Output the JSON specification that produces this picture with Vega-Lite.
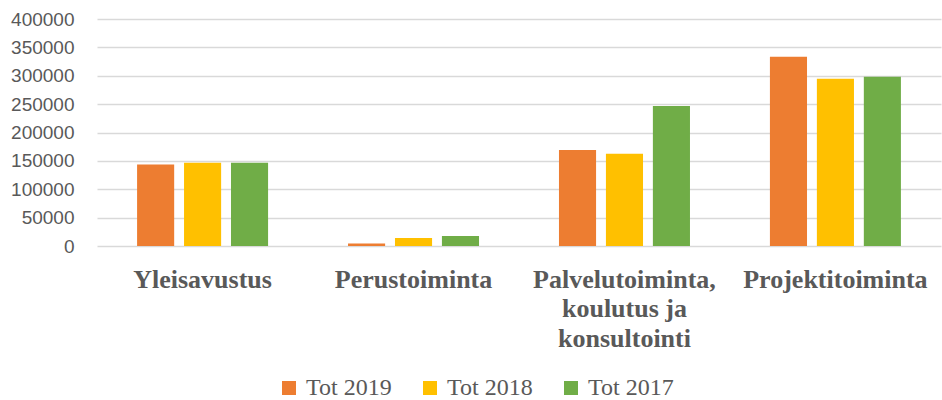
{
  "$schema": "https://vega.github.io/schema/vega-lite/v6.json",
  "autosize": {"type": "none"},
  "width": 844,
  "height": 227,
  "padding": {"left": 97, "top": 19, "right": 1, "bottom": 154},
  "background": "white",
  "data": {
    "values": [
      {"kategoria": "Yleisavustus", "sarja": "Tot 2019", "arvo": 143800},
      {"kategoria": "Yleisavustus", "sarja": "Tot 2018", "arvo": 146600},
      {"kategoria": "Yleisavustus", "sarja": "Tot 2017", "arvo": 146600},
      {"kategoria": "Perustoiminta", "sarja": "Tot 2019", "arvo": 4200},
      {"kategoria": "Perustoiminta", "sarja": "Tot 2018", "arvo": 14100},
      {"kategoria": "Perustoiminta", "sarja": "Tot 2017", "arvo": 17700},
      {"kategoria": "Palvelutoiminta, koulutus ja konsultointi", "sarja": "Tot 2019", "arvo": 169100},
      {"kategoria": "Palvelutoiminta, koulutus ja konsultointi", "sarja": "Tot 2018", "arvo": 162500},
      {"kategoria": "Palvelutoiminta, koulutus ja konsultointi", "sarja": "Tot 2017", "arvo": 246800},
      {"kategoria": "Projektitoiminta", "sarja": "Tot 2019", "arvo": 333400},
      {"kategoria": "Projektitoiminta", "sarja": "Tot 2018", "arvo": 294500},
      {"kategoria": "Projektitoiminta", "sarja": "Tot 2017", "arvo": 298100}
    ]
  },
  "mark": {"type": "bar"},
  "encoding": {
    "x": {
      "field": "kategoria",
      "type": "nominal",
      "sort": ["Yleisavustus", "Perustoiminta", "Palvelutoiminta, koulutus ja konsultointi", "Projektitoiminta"],
      "scale": {"paddingInner": 0.379, "paddingOuter": 0.19},
      "axis": {
        "title": null,
        "labelAngle": 0,
        "domain": false,
        "ticks": false,
        "labelPadding": 20,
        "labelFont": "Liberation Serif",
        "labelFontWeight": "bold",
        "labelFontSize": 26,
        "labelColor": "#595959",
        "labelLimit": 400,
        "labelLineHeight": 29.5,
        "labelExpr": "datum.label == 'Palvelutoiminta, koulutus ja konsultointi' ? ['Palvelutoiminta,', 'koulutus ja', 'konsultointi'] : datum.label"
      }
    },
    "xOffset": {
      "field": "sarja",
      "type": "nominal",
      "sort": ["Tot 2019", "Tot 2018", "Tot 2017"],
      "scale": {"paddingInner": 0.21, "paddingOuter": 0}
    },
    "y": {
      "field": "arvo",
      "type": "quantitative",
      "scale": {"domain": [0, 400000], "nice": false},
      "axis": {
        "title": null,
        "values": [0, 50000, 100000, 150000, 200000, 250000, 300000, 350000, 400000],
        "format": "d",
        "domain": false,
        "ticks": false,
        "labelPadding": 23,
        "labelFont": "Liberation Sans",
        "labelFontSize": 19,
        "labelColor": "#595959",
        "gridColor": "#d9d9d9",
        "gridWidth": 1.5
      }
    },
    "color": {
      "field": "sarja",
      "type": "nominal",
      "sort": ["Tot 2019", "Tot 2018", "Tot 2017"],
      "scale": {"domain": ["Tot 2019", "Tot 2018", "Tot 2017"], "range": ["#ED7D31", "#FFC000", "#70AD47"]},
      "legend": {
        "title": null,
        "orient": "none",
        "direction": "horizontal",
        "legendX": 180,
        "legendY": 357,
        "symbolType": "square",
        "symbolSize": 196,
        "symbolStrokeWidth": 0,
        "labelFont": "Liberation Serif",
        "labelFontSize": 24,
        "labelColor": "#595959",
        "labelOffset": 5,
        "columnPadding": 26
      }
    }
  },
  "config": {
    "view": {"stroke": null},
    "legend": {"labelFont": "Liberation Serif"}
  }
}
